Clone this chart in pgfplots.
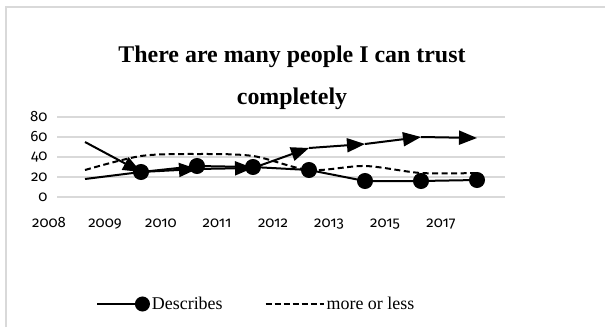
\documentclass[border=0pt]{standalone}
\usepackage{pgfplots}
\pgfplotsset{compat=1.18}
\usepackage{fontspec}
\setmainfont{Liberation Serif}
\newfontfamily\tickfont{Fira Sans}[Numbers=OldStyle]
\usetikzlibrary{arrows.meta}
\definecolor{gridgray}{RGB}{217,217,217}
\begin{document}
\begin{tikzpicture}[x=1bp,y=1bp]
\useasboundingbox (0,0) rectangle (605,327);
\draw[gridgray, line width=1.2bp] (6,0) -- (6,320) -- (605,320);
\node[font=\bfseries\fontsize{24}{42}\selectfont, align=center] at (292,249) {There are many people I can trust\\completely};
\begin{axis}[
  at={(57bp,130bp)}, anchor=south west,
  scale only axis, width=448bp, height=80bp,
  xmin=-0.5, xmax=7.5, ymin=0, ymax=80,
  xtick={0,...,7},
  xticklabels={2008,2009,2010,2011,2012,2013,2015,2017},
  ytick={0,20,40,60,80},
  axis line style={draw=none},
  major tick length=0pt,
  ymajorgrids, grid style={gridgray, line width=1.2bp},
  /pgf/number format/assume math mode=true,
  ticklabel style={font=\tickfont\fontsize{15}{17}\selectfont},
  xticklabel style={anchor=base, yshift=-30bp, xshift=-36bp},
  yticklabel style={xshift=-6bp},
  clip=false,
  legend style={at={(0.445,-1.3375)}, anchor=center, draw=none, fill=none,
    font=\fontsize{18}{20}\selectfont, legend columns=-1,
    /tikz/every even column/.append style={column sep=40bp},
    inner sep=0pt},
]
\addplot[black, line width=2bp, mark=*, mark size=7bp, mark indices={2,3,4,5,6,7,8},
  legend image code/.code={\draw[black, line width=2bp] (0bp,0bp) -- (45bp,0bp); \fill[black] (45bp,0bp) circle (6.5bp);}]
  coordinates {(0,18) (1,25) (2,31) (3,30) (4,27) (5,16) (6,16) (7,17)};
\addlegendentry{Describes}
\addplot[black, line width=2bp, dash pattern=on 6bp off 3.5bp, smooth, tension=0.5,
  legend image code/.code={\draw[black, line width=2bp, dash pattern=on 6bp off 3bp] (0bp,0bp) -- (58bp,0bp);}]
  coordinates {(0,27) (1,41) (2,43) (3,41) (4,27) (5,31) (6,24) (7,24)};
\addlegendentry{more or less}
\addplot[black, line width=2bp, -{Triangle[length=18bp,width=14bp]},
  quiver={u=\thisrow{u}, v=\thisrow{v}}, forget plot]
  table {
x y u v
0 55 1 -30
1 25 1 3
2 28 1 1
3 29 1 20
4 49 1 4
5 53 1 7
6 60 1 -1
};
\end{axis}
\end{tikzpicture}
\end{document}
